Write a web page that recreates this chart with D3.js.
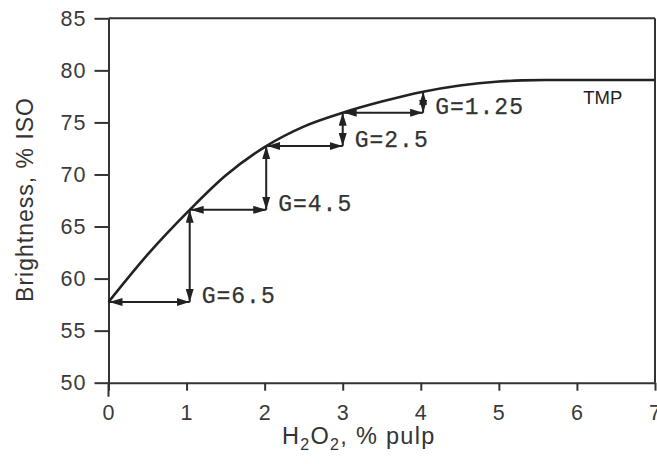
<!DOCTYPE html>
<html>
<head>
<meta charset="utf-8">
<script src="https://cdn.jsdelivr.net/npm/d3@7"></script>
<style>
  html, body { margin: 0; padding: 0; background: #fff; }
  svg { display: block; }
</style>
</head>
<body>
<div id="container"></div>
<script>
// axis ticks
const doseTicks = [0, 1, 2, 3, 4, 5, 6, 7];
const brightTicks = [50, 55, 60, 65, 70, 75, 80, 85];

// brightness response curve
const curveDose = [0, 0.5, 1.04, 1.5, 2.02, 2.5, 3.0, 3.5, 4.03, 4.5, 5.0, 5.3, 5.6, 6, 6.5, 7];
const curveBright = [57.75, 62.3, 66.6, 69.9, 72.73, 74.6, 75.93, 77.0, 77.95, 78.55, 78.93, 79.04, 79.07, 79.07, 79.07, 79.07];

// staircase of equal-dose steps
const stepDose = [0, 1.04, 2.02, 3.0, 4.03];
const stepBright = [57.75, 66.6, 72.73, 75.93, 77.95];
const gainLabels = ["G=6.5", "G=4.5", "G=2.5", "G=1.25"];

const seriesName = "TMP";

const W = 657, H = 464;
const margin = { top: 18.3, right: 2, bottom: 81.3, left: 108.5 };
const width = W - margin.left - margin.right;
const height = H - margin.top - margin.bottom;
const ink = "#222";

const svg = d3.select("#container").append("svg")
    .attr("width", W)
    .attr("height", H);

const defs = svg.append("defs");
defs.append("marker")
    .attr("id", "head")
    .attr("markerUnits", "userSpaceOnUse")
    .attr("viewBox", "0 0 13 8")
    .attr("refX", 13)
    .attr("refY", 4)
    .attr("markerWidth", 13)
    .attr("markerHeight", 8)
    .attr("orient", "auto-start-reverse")
    .append("path")
    .attr("d", "M0,0 L13,4 L0,8 Z")
    .attr("fill", ink);

const g = svg.append("g")
    .attr("transform", `translate(${margin.left},${margin.top})`);

const x = d3.scaleLinear().domain([0, 7]).range([0, width]);
const y = d3.scaleLinear().domain([50, 85]).range([height, 0]);

// frame top and right
g.append("line")
    .attr("x1", 0).attr("x2", width)
    .attr("y1", 0).attr("y2", 0)
    .attr("stroke", "#333").attr("stroke-width", 2);
g.append("line")
    .attr("x1", width).attr("x2", width)
    .attr("y1", 0).attr("y2", height)
    .attr("stroke", "#333").attr("stroke-width", 2);

const xAxis = d3.axisBottom(x)
    .tickValues(doseTicks)
    .tickSize(8)
    .tickSizeOuter(0)
    .tickPadding(14)
    .tickFormat(d3.format("d"));

const yAxis = d3.axisLeft(y)
    .tickValues(brightTicks)
    .tickSize(14)
    .tickSizeOuter(0)
    .tickPadding(8);

const gx = g.append("g")
    .attr("transform", `translate(0,${height})`)
    .call(xAxis);
const gy = g.append("g").call(yAxis);

[gx, gy].forEach(a => {
    a.selectAll("path, line").attr("stroke", "#333").attr("stroke-width", 2);
    a.selectAll("text")
        .attr("fill", "#3a3a3a")
        .style("font-family", "'Liberation Sans', Arial, sans-serif")
        .style("font-size", "21.5px")
        .style("letter-spacing", "1px");
});

// y axis line runs a bit below the x axis
g.append("line")
    .attr("x1", 0).attr("x2", 0)
    .attr("y1", height).attr("y2", height + 14)
    .attr("stroke", "#333").attr("stroke-width", 2);

// axis titles
svg.append("text")
    .attr("transform", `translate(33,${margin.top + y(67.6)}) rotate(-90)`)
    .attr("text-anchor", "middle")
    .attr("fill", "#333")
    .style("font-family", "'Liberation Sans', Arial, sans-serif")
    .style("font-size", "23px")
    .style("letter-spacing", "1px")
    .text("Brightness, % ISO");

const xt = svg.append("text")
    .attr("x", 282)
    .attr("y", 444)
    .attr("fill", "#333")
    .style("font-family", "'Liberation Sans', Arial, sans-serif")
    .style("font-size", "23.5px")
    .style("letter-spacing", "1.3px");
xt.append("tspan").text("H");
xt.append("tspan").attr("dy", 6).style("font-size", "16px").text("2");
xt.append("tspan").attr("dy", -6).text("O");
xt.append("tspan").attr("dy", 6).style("font-size", "16px").text("2");
xt.append("tspan").attr("dy", -6).text(", % pulp");

// curve
const line = d3.line()
    .x(i => x(curveDose[i]))
    .y(i => y(curveBright[i]))
    .curve(d3.curveMonotoneX);

g.append("path")
    .attr("d", line(d3.range(curveDose.length)))
    .attr("fill", "none")
    .attr("stroke", ink)
    .attr("stroke-width", 2.6);

// staircase arrows: horizontal dose step then vertical brightness gain
const steps = d3.range(stepDose.length - 1);

g.selectAll(".h-arrow")
    .data(steps)
    .enter()
    .append("line")
    .attr("class", "h-arrow")
    .attr("x1", i => x(stepDose[i]) + 1)
    .attr("x2", i => x(stepDose[i + 1]))
    .attr("y1", i => y(stepBright[i]))
    .attr("y2", i => y(stepBright[i]))
    .attr("stroke", ink)
    .attr("stroke-width", 2)
    .attr("marker-start", "url(#head)")
    .attr("marker-end", "url(#head)");

g.selectAll(".v-arrow")
    .data(steps)
    .enter()
    .append("line")
    .attr("class", "v-arrow")
    .attr("x1", i => x(stepDose[i + 1]))
    .attr("x2", i => x(stepDose[i + 1]))
    .attr("y1", i => y(stepBright[i]))
    .attr("y2", i => y(stepBright[i + 1]))
    .attr("stroke", ink)
    .attr("stroke-width", 2)
    .attr("marker-start", "url(#head)")
    .attr("marker-end", "url(#head)");

g.selectAll(".gain")
    .data(steps)
    .enter()
    .append("text")
    .attr("class", "gain")
    .attr("x", i => x(stepDose[i + 1]) + 12)
    .attr("y", i => y(stepBright[i]) + 1)
    .attr("fill", "#333")
    .attr("stroke", "#333")
    .attr("stroke-width", 0.25)
    .style("font-family", "'Liberation Mono', 'Courier New', monospace")
    .style("font-size", "23px")
    .style("letter-spacing", "1px")
    .text(i => gainLabels[i]);

g.append("text")
    .attr("x", x(6.08))
    .attr("y", y(76.8))
    .attr("fill", ink)
    .style("font-family", "'Liberation Sans', Arial, sans-serif")
    .style("font-size", "18.5px")
    .text(seriesName);
</script>
</body>
</html>
